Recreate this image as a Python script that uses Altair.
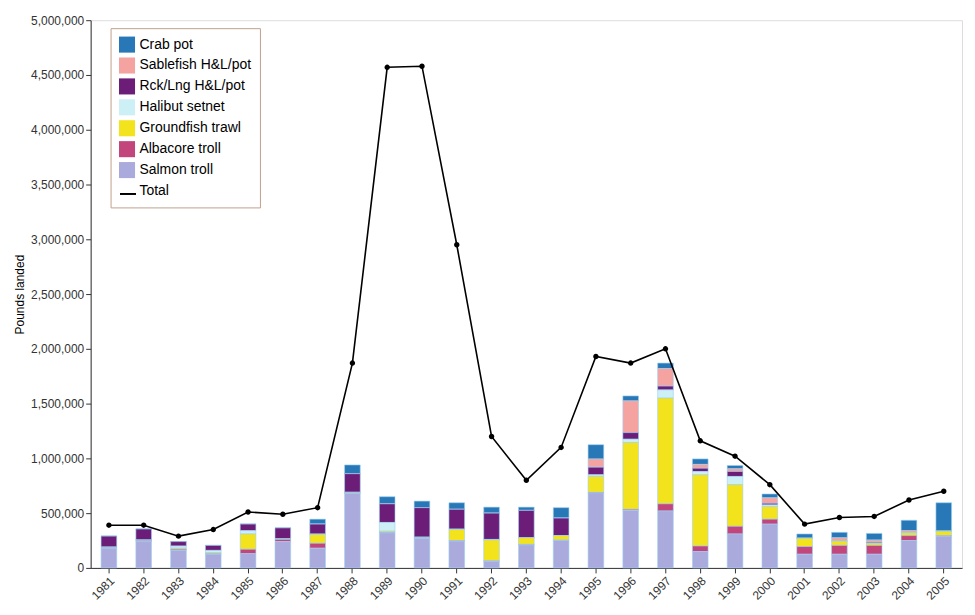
import altair as alt
import pandas as pd

years = [str(y) for y in range(1981, 2006)]
salmon = [180, 240, 160, 125, 130, 240, 180, 680, 320, 270, 245, 60, 210, 250, 685, 525, 520, 150, 310, 400, 125, 125, 125, 250, 290]
albacore = [5, 10, 10, 5, 40, 20, 45, 5, 5, 5, 5, 5, 5, 5, 5, 10, 65, 50, 70, 45, 70, 80, 80, 45, 5]
trawl = [5, 5, 10, 10, 140, 5, 80, 5, 10, 5, 100, 190, 60, 40, 145, 610, 965, 650, 380, 115, 75, 40, 20, 25, 40]
halibut = [0, 0, 20, 20, 30, 0, 5, 0, 80, 0, 5, 5, 0, 0, 15, 30, 75, 30, 75, 15, 0, 0, 0, 0, 0]
rcklng = [100, 100, 40, 45, 60, 100, 90, 170, 170, 270, 180, 240, 250, 160, 70, 60, 35, 30, 45, 15, 0, 0, 10, 0, 0]
sablefish = [0, 0, 0, 0, 0, 0, 0, 0, 0, 0, 0, 0, 0, 0, 75, 290, 160, 35, 25, 50, 0, 30, 20, 20, 0]
crab = [0, 0, 0, 0, 0, 0, 45, 80, 65, 60, 60, 55, 30, 95, 130, 45, 50, 50, 30, 35, 40, 50, 60, 95, 260]
total = [390, 390, 290, 350, 510, 490, 550, 1870, 4570, 4580, 2950, 1200, 800, 1100, 1930, 1870, 2000, 1160, 1020, 760, 400, 460, 470, 620, 700]

series = [("Crab pot", crab), ("Sablefish H&L/pot", sablefish), ("Rck/Lng H&L/pot", rcklng),
          ("Halibut setnet", halibut), ("Groundfish trawl", trawl), ("Albacore troll", albacore),
          ("Salmon troll", salmon)]
# "Total" gets an invisible swatch here; the line legend draws its symbol on top
names = [s[0] for s in series] + ["Total"]
colors = ["#2878b8", "#f4a3a0", "#6b1d78", "#cdeff6", "#f3e31c", "#c2457c", "#aaaadd", "rgba(0,0,0,0)"]

rows = []
for i, (name, vals) in enumerate(series):
    for y, v in zip(years, vals):
        rows.append({"year": y, "fishery": name, "pounds": v * 1000, "ord": 6 - i})
bars_df = pd.DataFrame(rows)
tot_df = pd.DataFrame({"year": years, "pounds": [t * 1000 for t in total], "kind": "Total"})

x = alt.X("year:N", title=None, scale=alt.Scale(paddingInner=0.55, paddingOuter=0.3),
          axis=alt.Axis(labelAngle=-45, labelFontSize=12, labelColor="#333", domainColor="#333", tickColor="#333"))

bars = alt.Chart(bars_df).mark_bar(stroke="#9fd0f0", strokeWidth=0.6).encode(
    x=x,
    y=alt.Y("pounds:Q", stack="zero", title="Pounds landed",
            scale=alt.Scale(domain=[0, 5000000]),
            axis=alt.Axis(format=",.0f", tickCount=10, grid=False, labelFontSize=12, titleFontSize=12,
                          titleFontWeight="normal", labelColor="#333", domainColor="#333", tickColor="#333")),
    color=alt.Color("fishery:N", scale=alt.Scale(domain=names, range=colors),
                    legend=alt.Legend(title=None, orient="none", legendX=20, legendY=8, labelFontSize=14,
                                      symbolType="square", symbolSize=260, symbolStrokeWidth=0,
                                      strokeColor="#c0a090", padding=8, rowPadding=4)),
    order=alt.Order("ord:Q"),
)

line = alt.Chart(tot_df).mark_line(color="black", strokeWidth=1.6, point=alt.OverlayMarkDef(color="black", size=12)).encode(
    x=x,
    y="pounds:Q",
    stroke=alt.Stroke("kind:N", scale=alt.Scale(domain=["Total"], range=["black"]),
                      legend=alt.Legend(title=None, orient="none", legendX=28, legendY=165, labelExpr="''",
                                        symbolType="stroke", symbolStrokeWidth=2, symbolSize=260, padding=0)),
)

chart = alt.layer(bars, line).resolve_scale(color="independent").properties(
    width=875, height=550, background="white"
).configure_view(stroke="#333").configure(font="Arial")

chart.save("out.html", embed_options={"renderer": "svg", "actions": False})
